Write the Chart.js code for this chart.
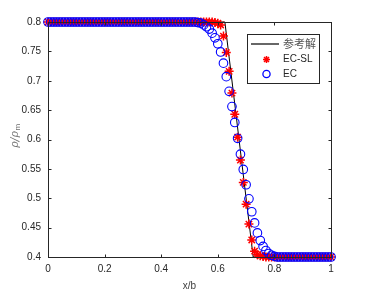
<!DOCTYPE html>
<html>
<head>
<meta charset="utf-8">
<script src="https://cdn.jsdelivr.net/npm/chart.js@4"></script>
<style>
html, body { margin: 0; padding: 0; background: #fff; }
#wrap { width: 366px; height: 292px; }
</style>
</head>
<body>
<div id="wrap"><canvas id="densityChart" width="366" height="292"></canvas></div>
<script>
// x positions of the sampled points (x/b)
const xGrid = [
    0, 0.01, 0.02, 0.03, 0.04, 0.05, 0.06, 0.07, 0.08, 0.09,
    0.1, 0.11, 0.12, 0.13, 0.14, 0.15, 0.16, 0.17, 0.18, 0.19,
    0.2, 0.21, 0.22, 0.23, 0.24, 0.25, 0.26, 0.27, 0.28, 0.29,
    0.3, 0.31, 0.32, 0.33, 0.34, 0.35, 0.36, 0.37, 0.38, 0.39,
    0.4, 0.41, 0.42, 0.43, 0.44, 0.45, 0.46, 0.47, 0.48, 0.49,
    0.5, 0.51, 0.52, 0.53, 0.54, 0.55, 0.56, 0.57, 0.58, 0.59,
    0.6, 0.61, 0.62, 0.63, 0.64, 0.65, 0.66, 0.67, 0.68, 0.69,
    0.7, 0.71, 0.72, 0.73, 0.74, 0.75, 0.76, 0.77, 0.78, 0.79,
    0.8, 0.81, 0.82, 0.83, 0.84, 0.85, 0.86, 0.87, 0.88, 0.89,
    0.9, 0.91, 0.92, 0.93, 0.94, 0.95, 0.96, 0.97, 0.98, 0.99,
    1
];

// EC-SL (red stars)
const ecslValues = [
    0.8, 0.8, 0.8, 0.8, 0.8, 0.8, 0.8, 0.8, 0.8, 0.8,
    0.8, 0.8, 0.8, 0.8, 0.8, 0.8, 0.8, 0.8, 0.8, 0.8,
    0.8, 0.8, 0.8, 0.8, 0.8, 0.8, 0.8, 0.8, 0.8, 0.8,
    0.8, 0.8, 0.8, 0.8, 0.8, 0.8, 0.8, 0.8, 0.8, 0.8,
    0.8, 0.8, 0.8, 0.8, 0.8, 0.8, 0.8, 0.8, 0.8, 0.8,
    0.8, 0.8, 0.8, 0.8, 0.8, 0.8, 0.8, 0.8, 0.8, 0.799,
    0.798, 0.795, 0.776, 0.748, 0.716, 0.679, 0.643, 0.604, 0.565, 0.527,
    0.49, 0.456, 0.429, 0.41, 0.404, 0.402, 0.401, 0.4, 0.4, 0.4,
    0.4, 0.4, 0.4, 0.4, 0.4, 0.4, 0.4, 0.4, 0.4, 0.4,
    0.4, 0.4, 0.4, 0.4, 0.4, 0.4, 0.4, 0.4, 0.4, 0.4,
    0.4
];

// EC (blue circles)
const ecValues = [
    0.8, 0.8, 0.8, 0.8, 0.8, 0.8, 0.8, 0.8, 0.8, 0.8,
    0.8, 0.8, 0.8, 0.8, 0.8, 0.8, 0.8, 0.8, 0.8, 0.8,
    0.8, 0.8, 0.8, 0.8, 0.8, 0.8, 0.8, 0.8, 0.8, 0.8,
    0.8, 0.8, 0.8, 0.8, 0.8, 0.8, 0.8, 0.8, 0.8, 0.8,
    0.8, 0.8, 0.8, 0.8, 0.8, 0.8, 0.8, 0.8, 0.8, 0.8,
    0.8, 0.8, 0.8, 0.799, 0.798, 0.795, 0.792, 0.788, 0.781, 0.773,
    0.763, 0.749, 0.73, 0.707, 0.682, 0.656, 0.629, 0.602, 0.575, 0.549,
    0.523, 0.499, 0.477, 0.458, 0.441, 0.428, 0.418, 0.411, 0.406, 0.403,
    0.401, 0.4, 0.4, 0.4, 0.4, 0.4, 0.4, 0.4, 0.4, 0.4,
    0.4, 0.4, 0.4, 0.4, 0.4, 0.4, 0.4, 0.4, 0.4, 0.4,
    0.4
];

// reference solution (black line)
const refX = [0, 0.625, 0.725, 1];
const refY = [0.8, 0.8, 0.4, 0.4];

const xTicks = [0, 0.2, 0.4, 0.6, 0.8, 1];
const yTicks = [0.4, 0.45, 0.5, 0.55, 0.6, 0.65, 0.7, 0.75, 0.8];

const seriesNames = ['参考解', 'EC-SL', 'EC'];

const axisColor = '#262626';
const fontFamily = '"Liberation Sans", Arial, sans-serif';

const toPoints = (xs, ys) => xs.map((x, i) => ({ x: x, y: ys[i] }));
const fmt = v => String(Number(v.toFixed(2)));

// MATLAB-like box, inward ticks, legend and y label
const matlabFrame = {
    id: 'matlabFrame',
    afterDraw(chart) {
        const ctx = chart.ctx;
        const a = chart.chartArea;
        const sx = chart.scales.x;
        const sy = chart.scales.y;
        const L = Math.round(a.left) + 0.5, R = Math.round(a.right) + 0.5;
        const T = Math.round(a.top) + 0.5, B = Math.round(a.bottom) + 0.5;
        ctx.save();
        ctx.strokeStyle = axisColor;
        ctx.lineWidth = 1;
        ctx.strokeRect(L, T, R - L, B - T);

        const tl = 3;
        ctx.beginPath();
        xTicks.forEach(v => {
            const px = Math.round(sx.getPixelForValue(v)) + 0.5;
            ctx.moveTo(px, B); ctx.lineTo(px, B - tl);
            ctx.moveTo(px, T); ctx.lineTo(px, T + tl);
        });
        yTicks.forEach(v => {
            const py = Math.round(sy.getPixelForValue(v)) + 0.5;
            ctx.moveTo(L, py); ctx.lineTo(L + tl, py);
            ctx.moveTo(R, py); ctx.lineTo(R - tl, py);
        });
        ctx.stroke();

        // legend
        const lx = 247.5, ly = 34.5, lw = 72, lh = 49;
        ctx.fillStyle = '#fff';
        ctx.fillRect(lx, ly, lw, lh);
        ctx.strokeStyle = axisColor;
        ctx.strokeRect(lx, ly, lw, lh);

        const rowY = [44, 59.5, 74];
        const textX = 283;
        const markX = 266.5;
        ctx.textBaseline = 'middle';
        ctx.textAlign = 'left';

        // line sample
        ctx.strokeStyle = '#000';
        ctx.lineWidth = 1.2;
        ctx.beginPath();
        ctx.moveTo(251, rowY[0]); ctx.lineTo(279, rowY[0]);
        ctx.stroke();
        ctx.fillStyle = '#555';
        ctx.font = '11px "Noto Sans CJK SC", sans-serif';
        ctx.fillText(seriesNames[0], textX, rowY[0]);

        const ds = chart.data.datasets;
        ctx.strokeStyle = ds[1].borderColor;
        ctx.fillStyle = ds[1].backgroundColor;
        ctx.lineWidth = ds[1].borderWidth;
        Chart.helpers.drawPoint(ctx, {
            pointStyle: 'star', radius: 3.5, rotation: 0, borderWidth: ds[1].borderWidth
        }, markX, rowY[1]);
        ctx.strokeStyle = ds[2].borderColor;
        ctx.lineWidth = 1.3;
        ctx.beginPath();
        ctx.arc(markX, rowY[2], 3.6, 0, Math.PI * 2);
        ctx.stroke();

        ctx.fillStyle = axisColor;
        ctx.font = '10px ' + fontFamily;
        ctx.fillText(seriesNames[1], textX, rowY[1]);
        ctx.fillText(seriesNames[2], textX, rowY[2]);

        // y label: rho / rho_m
        ctx.translate(15, 136);
        ctx.rotate(-Math.PI / 2);
        ctx.fillStyle = '#707070';
        ctx.textBaseline = 'middle';
        const mainFont = 'italic 11px "DejaVu Serif", serif';
        const subFont = '8px ' + fontFamily;
        ctx.font = mainFont;
        const main = 'ρ/ρ';
        const mw = ctx.measureText(main).width;
        ctx.font = subFont;
        const sw = ctx.measureText('m').width;
        const start = -(mw + sw) / 2;
        ctx.font = mainFont;
        ctx.fillText(main, start, 0);
        ctx.font = subFont;
        ctx.fillText('m', start + mw + 0.5, 3);
        ctx.restore();
    }
};

const densityCanvas = document.getElementById('densityChart');

const densityChart = new Chart(densityCanvas, {
    type: 'scatter',
    data: {
        datasets: [
            {
                label: seriesNames[0],
                data: toPoints(refX, refY),
                showLine: true,
                borderColor: '#000000',
                borderWidth: 1,
                pointRadius: 0,
                clip: false,
                order: 2
            },
            {
                label: seriesNames[1],
                data: toPoints(xGrid, ecslValues),
                pointStyle: 'star',
                pointRadius: 4.5,
                borderColor: '#ff0000',
                backgroundColor: '#ff0000',
                borderWidth: 1.5,
                clip: false,
                order: 1
            },
            {
                label: seriesNames[2],
                data: toPoints(xGrid, ecValues),
                pointStyle: 'circle',
                pointRadius: 4.3,
                borderColor: '#0000ff',
                backgroundColor: 'rgba(0,0,0,0)',
                borderWidth: 1.1,
                clip: false,
                order: 0
            }
        ]
    },
    options: {
        responsive: false,
        animation: false,
        events: [],
        layout: {
            padding: { top: 22, right: 35, left: 0, bottom: 0 }
        },
        plugins: {
            legend: { display: false },
            tooltip: { enabled: false }
        },
        scales: {
            x: {
                type: 'linear',
                min: 0,
                max: 1,
                afterBuildTicks: scale => { scale.ticks = xTicks.map(v => ({ value: v })); },
                afterFit: scale => { scale.height = 35; },
                grid: { display: false, drawTicks: false },
                border: { display: false },
                ticks: {
                    padding: 6,
                    color: axisColor,
                    font: { family: fontFamily, size: 10 },
                    callback: v => fmt(v)
                },
                title: {
                    display: true,
                    text: 'x/b',
                    color: '#404040',
                    font: { family: fontFamily, size: 10 },
                    padding: { top: 5, bottom: 0 }
                }
            },
            y: {
                type: 'linear',
                min: 0.4,
                max: 0.8,
                afterBuildTicks: scale => { scale.ticks = yTicks.map(v => ({ value: v })); },
                afterFit: scale => { scale.width = 48; },
                grid: { display: false, drawTicks: false },
                border: { display: false },
                ticks: {
                    padding: 7,
                    color: axisColor,
                    font: { family: fontFamily, size: 10 },
                    callback: v => fmt(v)
                }
            }
        }
    },
    plugins: [matlabFrame]
});
</script>
</body>
</html>
